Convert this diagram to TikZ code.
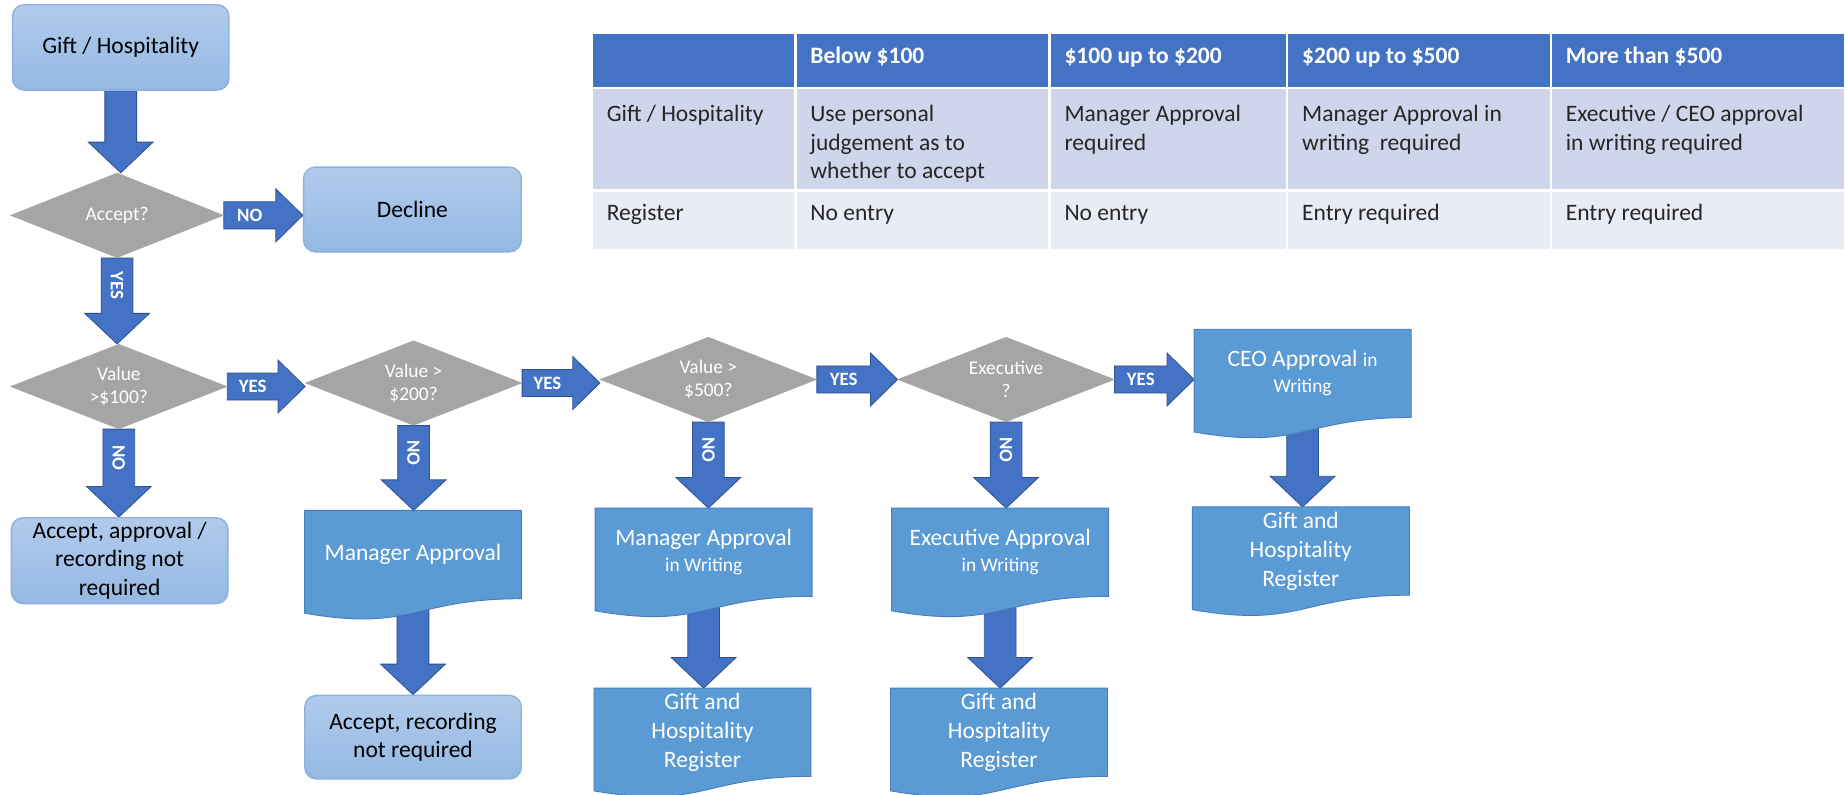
\documentclass[tikz,border=0pt]{standalone}
\usepackage{fontspec}
\setmainfont{Carlito}
\usetikzlibrary{shapes.geometric,calc}
\pgfdeclarelayer{bgl}
\pgfdeclarelayer{arrows}
\pgfdeclarelayer{shapes}
\pgfsetlayers{bgl,arrows,shapes,main}

\definecolor{arrblue}{HTML}{4472C4}
\definecolor{arredge}{HTML}{2F528F}
\definecolor{docblue}{HTML}{5B9BD5}
\definecolor{docedge}{HTML}{4A7EBB}
\definecolor{boxtop}{HTML}{B2CBEC}
\definecolor{boxbot}{HTML}{94B8E3}
\definecolor{boxedge}{HTML}{8CB2E2}
\definecolor{dgray}{HTML}{A5A5A5}
\definecolor{hdr}{HTML}{4472C4}
\definecolor{rowa}{HTML}{CFD5EA}
\definecolor{rowb}{HTML}{E9EBF5}
\definecolor{tabtext}{HTML}{262626}

\newcommand\fbig{\fontsize{20}{24.5}\selectfont}
\newcommand\fsml{\fontsize{16.5}{19.5}\selectfont}

\tikzset{
 rbox/.style={rounded corners=10pt, top color=boxtop, bottom color=boxbot, draw=boxedge, line width=1.2pt, minimum width=184pt, minimum height=72pt, inner sep=0pt, align=center, font=\fbig, text=black},
 dec/.style={diamond, fill=dgray, draw=dgray, minimum width=184pt, minimum height=72pt, inner sep=0pt, shape aspect=2.5, align=center, font=\fsml, text=white},
 doctext/.style={minimum width=184pt, minimum height=74.6pt, inner sep=0pt, align=center, font=\fbig, text=white},
 docshape/.style={fill=docblue, draw=docedge, line width=0.8pt},
 barrow/.style={fill=arrblue, draw=arredge, line width=0.7pt},
 lbl/.style={text=white, font=\fontsize{16}{19}\selectfont\bfseries, inner sep=0pt},
 cellfill/.style={draw=white, line width=2pt},
 hd/.style={anchor=base west, inner sep=0pt, font=\fbig\bfseries, text=white},
 td/.style={anchor=base west, inner sep=0pt, font=\fbig, text=tabtext},
}

\newcommand\varr[3]{%
 \path[barrow] let \p1=(#1), \p2=(#2) in
  (\x1-13.5pt,\y1) -- (\x1+13.5pt,\y1) -- (\x1+13.5pt,\y2+26pt) -- (\x1+27.5pt,\y2+26pt)
  -- (\x1,\y2) -- (\x1-27.5pt,\y2+26pt) -- (\x1-13.5pt,\y2+26pt) -- cycle
  (\x1,{0.5*\y1+0.5*\y2+13pt}) node[lbl,rotate=-90]{#3};
}
\newcommand\harr[3]{%
 \path[barrow] let \p1=(#1), \p2=(#2) in
  (\x1,\y1+11.5pt) -- (\x2-23pt,\y1+11.5pt) -- (\x2-23pt,\y1+22.5pt) -- (\x2,\y1)
  -- (\x2-23pt,\y1-22.5pt) -- (\x2-23pt,\y1-11.5pt) -- (\x1,\y1-11.5pt) -- cycle
  ({0.5*\x1+0.5*\x2-11.5pt},\y1) node[lbl]{#3};
}
\newcommand\docwave[1]{%
 \path[docshape] (#1.north west) -- (#1.north east) -- (#1.south east)
  .. controls (#1.south) and ($(#1.south)+(0,28.4)$) .. ($(#1.south west)+(0,12.3)$) -- cycle;
}

\begin{document}
\begin{tikzpicture}[x=1pt,y=-1pt]
\begin{pgfonlayer}{bgl}
\fill[white] (0,0) rectangle (1568,675.6);
\end{pgfonlayer}
\useasboundingbox (0,0) rectangle (1568,675.6);

% ---------- table ----------
\foreach \a/\b in {503/676,676/892,892/1094,1094/1318,1318/1568} {
 \path[cellfill, fill=hdr] (\a,27.8) rectangle (\b,75);
 \path[cellfill, fill=rowa] (\a,75) rectangle (\b,162);
 \path[cellfill, fill=rowb] (\a,162) rectangle (\b,212.5);
}
\node[hd] (h1) at (688.5,54) {Below \$100};
\node[hd] (h2) at (904.5,54) {\$100 up to \$200};
\node[hd] (h3) at (1106.5,54) {\$200 up to \$500};
\node[hd] (h4) at (1330.5,54) {More than \$500};
\node[td] (r1c0) at (515.5,103) {Gift / Hospitality};
\node[td] (r1c1) at (688.5,103) {\parbox[t]{190pt}{\raggedright Use personal\\judgement as to\\whether to accept}};
\node[td] (r1c2) at (904.5,103) {\parbox[t]{190pt}{\raggedright Manager Approval\\required}};
\node[td] (r1c3) at (1106.5,103) {\parbox[t]{210pt}{\raggedright Manager Approval in\\writing~ required}};
\node[td] (r1c4) at (1330.5,103) {\parbox[t]{230pt}{\raggedright Executive / CEO approval\\in writing required}};
\node[td] (r2c0) at (515.5,187.5) {Register};
\node[td] (r2c1) at (688.5,187.5) {No entry};
\node[td] (r2c2) at (904.5,187.5) {No entry};
\node[td] (r2c3) at (1106.5,187.5) {Entry required};
\node[td] (r2c4) at (1330.5,187.5) {Entry required};

% ---------- flow nodes ----------
\node[rbox, minimum height=72.5pt] (gift) at (102.6,40.3) {\raisebox{-2pt}{Gift / Hospitality}};
\node[rbox, minimum width=185pt] (decline) at (350.5,178) {Decline};
\node[dec, minimum width=181pt] (accept) at (99.5,183) {Accept?};
\node[dec] (v100) at (101,328.5) {Value\\>\$100?};
\node[dec] (v200) at (351.5,325.5) {Value >\\\$200?};
\node[dec] (v500) at (602,322.5) {Value >\\\$500?};
\node[dec] (exec) at (855,322.5) {Executive\\?};
\node[rbox, minimum height=73pt] (acc1) at (101.7,476.5) {Accept, approval /\\recording not\\required};
\node[rbox, minimum height=71pt] (acc2) at (351,626.5) {Accept, recording\\not required};

\node[doctext] (mgr) at (351,471.3) {Manager Approval};
\node[doctext] (mgrw) at (598,469.3) {Manager Approval\\[-2.5pt]{\fsml in Writing}};
\node[doctext] (exe) at (850,469.3) {Executive Approval\\[-2.5pt]{\fsml in Writing}};
\node[doctext] (ceo) at (1107,317.3) {CEO Approval {\fsml in}\\[-2.5pt]{\fsml Writing}};
\node[doctext] (reg1) at (597,622.3) {Gift and\\Hospitality\\Register};
\node[doctext] (reg2) at (849,622.3) {Gift and\\Hospitality\\Register};
\node[doctext] (reg3) at (1105.5,468.3) {Gift and\\Hospitality\\Register};

\begin{pgfonlayer}{shapes}
\docwave{mgr}
\docwave{mgrw}
\docwave{exe}
\docwave{ceo}
\docwave{reg1}
\docwave{reg2}
\docwave{reg3}
\end{pgfonlayer}

% ---------- arrows ----------
\begin{pgfonlayer}{arrows}
\varr{gift.south}{accept.north}{}
\varr{accept.south}{v100.north}{YES}
\harr{accept.east}{decline.west}{NO}
\harr{v100.east}{v200.west}{YES}
\harr{v200.east}{v500.west}{YES}
\harr{v500.east}{exec.west}{YES}
\harr{exec.east}{ceo.west}{YES}
\varr{v100.south}{acc1.north}{NO}
\varr{v200.south}{mgr.north}{NO}
\varr{v500.south}{mgrw.north}{NO}
\varr{exec.south}{exe.north}{NO}
\varr{mgr.south}{acc2.north}{}
\varr{mgrw.south}{reg1.north}{}
\varr{exe.south}{reg2.north}{}
\varr{ceo.south}{reg3.north}{}
\end{pgfonlayer}
\end{tikzpicture}
\end{document}
